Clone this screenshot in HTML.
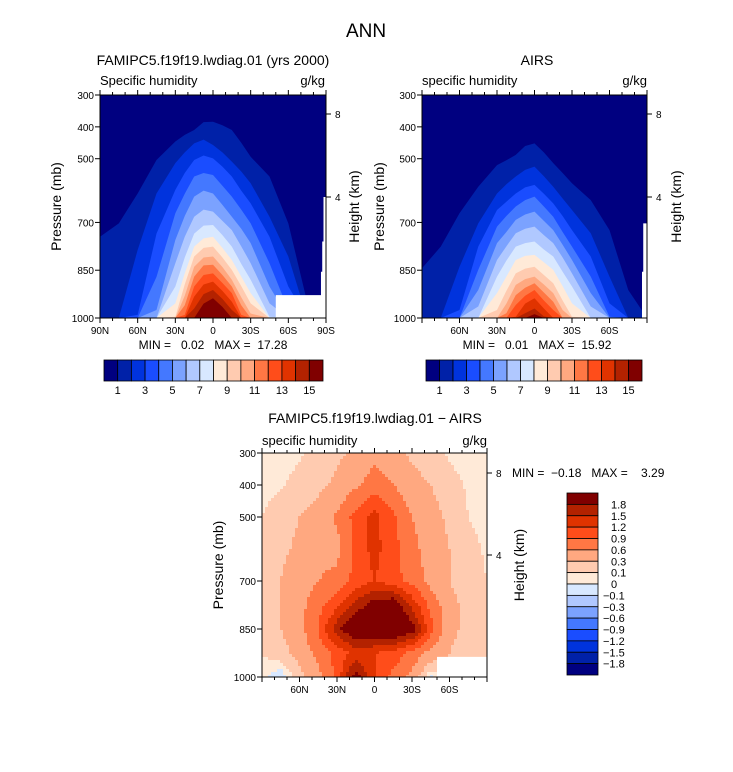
<!DOCTYPE html>
<html><head><meta charset="utf-8"><style>
html,body{margin:0;padding:0;background:#fff;}
svg{display:block;font-family:"Liberation Sans",sans-serif;}
</style></head><body>
<svg id="fig" width="733" height="772" viewBox="0 0 733 772" xmlns="http://www.w3.org/2000/svg">
<text x="366" y="37" font-size="19" text-anchor="middle">ANN</text>
<text x="213" y="65" font-size="14" text-anchor="middle">FAMIPC5.f19f19.lwdiag.01 (yrs 2000)</text>
<text x="100" y="85" font-size="13">Specific humidity</text>
<text x="325" y="85" font-size="13" text-anchor="end">g/kg</text>
<text x="537" y="65" font-size="14" text-anchor="middle">AIRS</text>
<text x="422" y="85" font-size="13">specific humidity</text>
<text x="647" y="85" font-size="13" text-anchor="end">g/kg</text>
<text x="213" y="349" font-size="12" text-anchor="middle" xml:space="preserve">MIN =   0.02   MAX =  17.28</text>
<text x="537" y="349" font-size="12" text-anchor="middle" xml:space="preserve">MIN =   0.01   MAX =  15.92</text>
<text x="375" y="423" font-size="14" text-anchor="middle">FAMIPC5.f19f19.lwdiag.01 − AIRS</text>
<text x="262" y="445" font-size="13">specific humidity</text>
<text x="487" y="445" font-size="13" text-anchor="end">g/kg</text>
<text x="512" y="477" font-size="12" xml:space="preserve">MIN =  −0.18   MAX =    3.29</text>
<g id="p1"></g>
<g id="p2"></g>
<g id="p3"></g>
<g id="cb"></g>
</svg>
<script>
// ---- data ----
const lats = [90,75,60,45,30,22.5,15,7.5,0,-7.5,-15,-22.5,-30,-45,-60,-75,-90];
const qLevels = [1,2,3,4,5,6,7,8,9,10,11,12,13,14,15];
// pressure (mb) of each contour's upper boundary, model
const modelBounds = [
[745,703,609,504,446,425,410,385,384,395,410,450,494,556,703,950,1000],
[1000,1000,786,609,514,480,452,440,457,480,509,540,577,682,807,1000,1000],
[1000,1000,990,735,598,545,504,490,499,525,556,600,640,745,901,1000,1000],
[1000,1000,1000,871,671,610,556,545,551,585,619,660,703,828,975,1000,1000],
[1000,1000,1000,975,755,680,619,600,609,645,682,720,765,901,1000,1000,1000],
[1000,1000,1000,1000,828,745,682,660,666,695,724,775,828,954,1000,1000,1000],
[1000,1000,1000,1000,901,810,735,710,708,740,776,830,880,996,1000,1000,1000],
[1000,1000,1000,1000,954,860,776,750,745,780,818,870,922,1000,1000,1000,1000],
[1000,1000,1000,1000,996,895,807,780,776,810,849,900,954,1000,1000,1000,1000],
[1000,1000,1000,1000,1000,930,839,810,807,840,880,935,986,1000,1000,1000,1000],
[1000,1000,1000,1000,1000,960,870,835,833,865,901,960,1000,1000,1000,1000,1000],
[1000,1000,1000,1000,1000,990,901,865,860,890,922,990,1000,1000,1000,1000,1000],
[1000,1000,1000,1000,1000,1000,933,895,886,915,949,1000,1000,1000,1000,1000,1000],
[1000,1000,1000,1000,1000,1000,970,925,912,940,975,1000,1000,1000,1000,1000,1000],
[1000,1000,1000,1000,1000,1000,1000,955,938,965,1000,1000,1000,1000,1000,1000,1000]];
const airsBounds = [
[844,776,671,588,520,505,488,460,452,480,514,545,577,630,724,912,1000],
[1000,1000,839,703,609,580,556,535,525,555,588,625,661,734,870,1000,1000],
[1000,1000,975,776,661,635,609,590,582,610,640,680,724,807,954,1000,1000],
[1000,1000,1000,849,713,680,650,630,619,650,682,730,776,870,996,1000,1000],
[1000,1000,1000,912,765,730,692,675,666,695,724,770,818,922,1000,1000,1000],
[1000,1000,1000,964,818,775,734,720,713,740,765,810,860,964,1000,1000,1000],
[1000,1000,1000,1000,870,820,776,765,760,785,807,855,901,1000,1000,1000,1000],
[1000,1000,1000,1000,922,870,818,805,802,825,849,900,954,1000,1000,1000,1000],
[1000,1000,1000,1000,975,915,860,845,839,865,891,945,996,1000,1000,1000,1000],
[1000,1000,1000,1000,1000,955,896,878,870,895,922,975,1000,1000,1000,1000,1000],
[1000,1000,1000,1000,1000,985,928,905,891,920,949,1000,1000,1000,1000,1000,1000],
[1000,1000,1000,1000,1000,1000,959,930,912,945,975,1000,1000,1000,1000,1000,1000],
[1000,1000,1000,1000,1000,1000,996,955,938,970,1000,1000,1000,1000,1000,1000,1000],
[1000,1000,1000,1000,1000,1000,1000,985,970,995,1000,1000,1000,1000,1000,1000,1000],
[1000,1000,1000,1000,1000,1000,1000,1000,988,1000,1000,1000,1000,1000,1000,1000,1000]];
const missing1Lat = [-50,-86,-86,-87,-87,-88,-88,-90,-90,-50];
const missing1P = [928,928,855,855,760,760,620,620,1000,1000];
const missing2Lat = [-87,-87,-86,-86,-90,-90];
const missing2P = [703,855,855,1000,1000,703];
// difference field
const dLats = [90,75,60,45,30,15,0,-15,-30,-45,-60,-75,-90];
const dPres = [300,400,500,600,700,775,850,925,1000];
const dVals = [
[0.05,0.05,0.08,0.15,0.25,0.35,0.5,0.4,0.25,0.15,0.08,0.05,0.05],
[0.05,0.08,0.15,0.25,0.35,0.55,0.75,0.6,0.4,0.3,0.15,0.08,0.05],
[0.1,0.2,0.3,0.4,0.65,1.0,1.3,0.95,0.6,0.4,0.25,0.1,0.05],
[0.15,0.25,0.35,0.5,0.5,1.0,1.3,1.0,0.7,0.45,0.3,0.15,0.08],
[0.15,0.3,0.45,0.6,0.7,1.0,1.2,1.0,0.8,0.5,0.3,0.15,0.1],
[0.2,0.3,0.5,0.8,1.1,1.6,2.0,2.1,1.4,0.8,0.4,0.2,0.1],
[0.2,0.3,0.5,0.9,1.7,2.2,2.3,2.3,2.0,1.0,0.4,0.2,0.1],
[0.1,0.2,0.4,0.7,1.0,1.3,1.2,1.1,0.8,0.5,0.3,0.1,0.1],
[0.05,-0.1,0.2,0.5,1.0,2.0,1.2,0.8,0.5,-0.05,0.2,0.1,0.1]];
const missing3Lat = [-50,-90,-90,-50];
const missing3P = [937,937,1000,1000];
const dLevels = [-1.8,-1.5,-1.2,-0.9,-0.6,-0.3,-0.1,0,0.1,0.3,0.6,0.9,1.2,1.5,1.8];
const dLabels = ["1.8","1.5","1.2","0.9","0.6","0.3","0.1","0","−0.1","−0.3","−0.6","−0.9","−1.2","−1.5","−1.8"];
const qLabels = ["1","3","5","7","9","11","13","15"];
const presTicks = [300,400,500,700,850,1000];
const colors = ["#000080","#0021a8","#0033dd","#1a4dff","#4478ff","#7ba2ff","#b0c8ff","#d8e8ff","#ffead8","#ffcbb0","#ffa880","#ff7744","#ff4d1a","#e03300","#b32200","#800000"];

// ---- helpers ----
const NS="http://www.w3.org/2000/svg";
function mk(tag,attrs,parent){const e=document.createElementNS(NS,tag);for(const k in attrs)e.setAttribute(k,attrs[k]);parent.appendChild(e);return e;}
function axes(b){return {x:lat=>b.x0+(90-lat)/180*b.w, y:p=>b.y0+(p-300)/700*b.h};}

function frame(g,b,A,xlabs,pLabelX,hLabelX,hy8,hy4){
  mk('rect',{x:b.x0,y:b.y0,width:b.w,height:b.h,fill:'none',stroke:'#000','stroke-width':1},g);
  for(let lat=90;lat>=-90;lat-=10){
    const x=A.x(lat), major=(lat%30===0), L=major?5:3;
    const t1=mk('line',{x1:x,x2:x,y1:b.y0,y2:b.y0-L,stroke:'#000'},g);
    
    
    const t2=mk('line',{x1:x,x2:x,y1:b.y0+b.h,y2:b.y0+b.h+L,stroke:'#000'},g);
    
    
  }
  xlabs.forEach(lat=>{
    const s=lat===0?'0':(Math.abs(lat)+(lat>0?'N':'S'));
    const t=mk('text',{x:A.x(lat),y:b.y0+b.h+16,'font-size':10,'text-anchor':'middle'},g);t.textContent=s;
    
    
  });
  presTicks.forEach(p=>{
    const y=A.y(p);
    const l=mk('line',{x1:b.x0,x2:b.x0-5,y1:y,y2:y,stroke:'#000'},g);
    
    
    const t=mk('text',{x:b.x0-6,y:y+4,'font-size':10,'text-anchor':'end'},g);t.textContent=p;
    
    
  });
  [[hy8,'8'],[hy4,'4']].forEach(([y,s])=>{
    const l=mk('line',{x1:b.x0+b.w,x2:b.x0+b.w+5,y1:y,y2:y,stroke:'#000'},g);
    
    
    const t=mk('text',{x:b.x0+b.w+9,y:y+4,'font-size':10},g);t.textContent=s;
    
    
  });
  const cy=b.y0+b.h/2;
  const pl=mk('text',{x:pLabelX,y:cy,'font-size':14,'text-anchor':'middle',transform:`rotate(-90 ${pLabelX} ${cy})`},g);pl.textContent='Pressure (mb)';
  
  
  const hl=mk('text',{x:hLabelX,y:cy,'font-size':14,'text-anchor':'middle',transform:`rotate(-90 ${hLabelX} ${cy})`},g);hl.textContent='Height (km)';
  
  
}
function missingPoly(g,A,la,pa){
  const pts=la.map((l,i)=>A.x(l)+','+A.y(pa[i])).join(' ');
  const m=mk('polygon',{points:pts,fill:'#fff'},g);
  
  
}
function contourPanel(g,b,bounds,miss){
  const A=axes(b);
  const bg=mk('rect',{x:b.x0,y:b.y0,width:b.w,height:b.h,fill:colors[0]},g);
  
  
  bounds.forEach((row,k)=>{
    let pts=lats.map((l,i)=>A.x(l)+','+A.y(row[i]));
    pts.push(A.x(-90)+','+A.y(1000));pts.push(A.x(90)+','+A.y(1000));
    const pg=mk('polygon',{points:pts.join(' '),fill:colors[k+1]},g);
    
    
  });
  missingPoly(g,A,miss[0],miss[1]);
  return A;
}
function interp(arr,v){ // arr descending or ascending; returns fractional index
  const asc=arr[arr.length-1]>arr[0];
  for(let i=0;i<arr.length-1;i++){
    const a=arr[i],c=arr[i+1];
    if((asc&&v>=a&&v<=c)||(!asc&&v<=a&&v>=c)) return i+(v-a)/(c-a);
  }
  return v<arr[0]===asc?0:arr.length-1;
}

// ---- panels ----
const b1={x0:100,y0:95,w:226,h:223}, b2={x0:422,y0:95,w:225,h:223}, b3={x0:262,y0:453,w:225,h:224};
const g1=document.getElementById('p1'),g2=document.getElementById('p2'),g3=document.getElementById('p3');
const A1=contourPanel(g1,b1,modelBounds,[missing1Lat,missing1P]);
frame(g1,b1,A1,[90,60,30,0,-30,-60,-90],61,359,114,197);
const A2=contourPanel(g2,b2,airsBounds,[missing2Lat,missing2P]);
frame(g2,b2,A2,[60,30,0,-30,-60],384,681,114,197);

// difference heatmap via bilinear interpolation
const A3=axes(b3);const step=3;
for(let py=b3.y0;py<b3.y0+b3.h;py+=step){
  const p=300+(py+step/2-b3.y0)/b3.h*700;
  const fi=interp(dPres,p);const i0=Math.min(Math.floor(fi),dPres.length-2),ti=fi-i0;
  for(let px=b3.x0;px<b3.x0+b3.w;px+=step){
    const lat=90-(px+step/2-b3.x0)/b3.w*180;
    const fj=interp(dLats,lat);const j0=Math.min(Math.floor(fj),dLats.length-2),tj=fj-j0;
    const v=(dVals[i0][j0]*(1-tj)+dVals[i0][j0+1]*tj)*(1-ti)+(dVals[i0+1][j0]*(1-tj)+dVals[i0+1][j0+1]*tj)*ti;
    let c=0;dLevels.forEach(l=>{if(v>=l)c++;});
    const r=mk('rect',{x:px,y:py,width:Math.min(step,b3.x0+b3.w-px),height:Math.min(step,b3.y0+b3.h-py),fill:colors[c],'shape-rendering':'crispEdges'},g3);
    
    
  }
}
missingPoly(g3,A3,missing3Lat,missing3P);
frame(g3,b3,A3,[60,30,0,-30,-60],223,524,473,555);

// ---- colorbars ----
const cb=document.getElementById('cb');
function hbar(x0,y0,w,h){
  const bw=w/16;
  colors.forEach((c,i)=>{
    const r=mk('rect',{x:x0+i*bw,y:y0,width:bw,height:h,fill:c,stroke:'#000','stroke-width':0.8},cb);
    
    
  });
  qLabels.forEach((s,i)=>{
    const t=mk('text',{x:x0+(1+2*i)*bw,y:y0+h+13,'font-size':11,'text-anchor':'middle'},cb);t.textContent=s;
    
    
  });
}
hbar(104,360,219,21);
hbar(426,360,216,21);
const vx=567,vy=493,vw=31,vh=182,bh=vh/16;
colors.slice().reverse().forEach((c,i)=>{
  const r=mk('rect',{x:vx,y:vy+i*bh,width:vw,height:bh,fill:c,stroke:'#000','stroke-width':0.8},cb);
  
  
});
dLabels.forEach((s,i)=>{
  const t=mk('text',{x:s.startsWith('−')?vx+36:vx+44,y:vy+(i+1)*bh+4,'font-size':11},cb);t.textContent=s;
  
  
});
</script>
</body></html>
